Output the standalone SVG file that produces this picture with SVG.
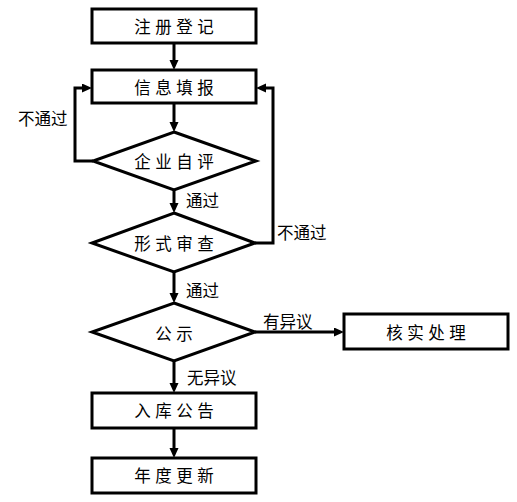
<svg xmlns="http://www.w3.org/2000/svg" width="517" height="502" viewBox="0 0 517 502">
<defs>
<marker id="ah" markerUnits="userSpaceOnUse" markerWidth="10" markerHeight="10" refX="0" refY="4.5" orient="auto">
<path d="M0,0 L10,4.5 L0,9 z" fill="#000"/>
</marker>
<style>
.n{fill:#fff;stroke:#000;stroke-width:3}
.t{font-family:"Noto Sans CJK SC","Noto Sans",sans-serif;font-size:16.5px;letter-spacing:4.5px;text-anchor:middle;dominant-baseline:central;fill:#000}
.l{font-family:"Noto Sans CJK SC","Noto Sans",sans-serif;font-size:16.5px;text-anchor:start;dominant-baseline:central;fill:#000}
.c{fill:none;stroke:#000;stroke-width:3}
</style>
</defs>
<rect width="517" height="502" fill="#fff"/>
<g id="connectors">
<path class="c" d="M174,43 V60" marker-end="url(#ah)"/>
<path class="c" d="M174,103 V122" marker-end="url(#ah)"/>
<path class="c" d="M174,190 V203" marker-end="url(#ah)"/>
<path class="c" d="M174,272 V293" marker-end="url(#ah)"/>
<path class="c" d="M174,361 V383" marker-end="url(#ah)"/>
<path class="c" d="M174,428 V448" marker-end="url(#ah)"/>
<path class="c" d="M93,161 H75 V88 H82" marker-end="url(#ah)"/>
<path class="c" d="M255,243 H273 V88 H266" marker-end="url(#ah)"/>
<path class="c" d="M255,332 H334" marker-end="url(#ah)"/>
<text class="l" x="18" y="118">不通过</text>
<text class="l" x="186" y="200">通过</text>
<text class="l" x="277" y="232">不通过</text>
<text class="l" x="186" y="290">通过</text>
<text class="l" x="263" y="321">有异议</text>
<text class="l" x="187" y="377">无异议</text>
</g>
<g id="n1"><rect class="n" x="92" y="9" width="164" height="34"/><text class="t" x="176.2" y="26">注册登记</text></g>
<g id="n2"><rect class="n" x="92" y="70" width="164" height="33"/><text class="t" x="176.2" y="87">信息填报</text></g>
<g id="n3"><polygon class="n" points="174,132 256,161 174,190 93,161"/><text class="t" x="176.2" y="161">企业自评</text></g>
<g id="n4"><polygon class="n" points="174,213 255,243 174,272 92,243"/><text class="t" x="176.2" y="243">形式审查</text></g>
<g id="n5"><polygon class="n" points="174,303 255,332 174,361 92,332"/><text class="t" x="176.2" y="333">公示</text></g>
<g id="n6"><rect class="n" x="344" y="314" width="164" height="35"/><text class="t" x="428.2" y="332">核实处理</text></g>
<g id="n7"><rect class="n" x="92" y="393" width="164" height="35"/><text class="t" x="176.2" y="410">入库公告</text></g>
<g id="n8"><rect class="n" x="92" y="458" width="164" height="35"/><text class="t" x="176.2" y="475">年度更新</text></g>
</svg>
